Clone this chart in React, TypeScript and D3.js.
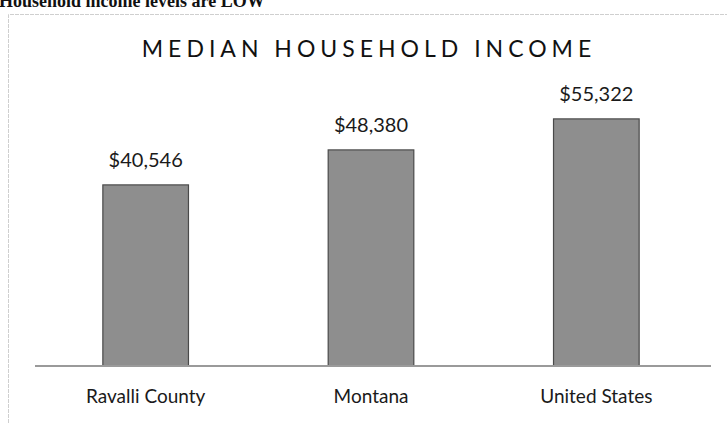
import React, { useEffect, useRef } from 'react';
import * as d3 from 'd3';

const categories = ['Ravalli County', 'Montana', 'United States'];
const incomes = [40546, 48380, 55322];
const valueLabels = ['$40,546', '$48,380', '$55,322'];

const width = 727;
const height = 423;

const App = () => {
    const svgRef = useRef<SVGSVGElement>(null);

    useEffect(() => {
        const svg = d3.select(svgRef.current);
        svg.selectAll('*').remove();

        const baseline = 366;
        const font = 'Lato, "Open Sans", sans-serif';

        const xScale = d3
            .scaleBand()
            .domain(categories)
            .range([33, 709])
            .paddingInner(0.62)
            .paddingOuter(0.31);

        const yScale = d3.scaleLinear().domain([0, 60000]).range([baseline, 98]);

        // page heading, cut off by the scan
        svg.append('text')
            .attr('x', -1)
            .attr('y', 7)
            .style('font-family', '"Liberation Serif", serif')
            .style('font-weight', 'bold')
            .style('font-size', '18px')
            .attr('fill', '#111')
            .text('Household income levels are LOW');

        // chart frame
        svg.append('path')
            .attr('d', `M8.5,${height} V14.5 H${width}`)
            .attr('fill', 'none')
            .attr('stroke', '#cfcfcf')
            .attr('stroke-width', 1)
            .attr('stroke-dasharray', '4,1');

        svg.append('text')
            .attr('x', 369)
            .attr('y', 57)
            .attr('text-anchor', 'middle')
            .style('font-family', font)
            .style('font-size', '23px')
            .style('letter-spacing', '5px')
            .attr('fill', '#111')
            .text('MEDIAN HOUSEHOLD INCOME');

        svg.selectAll('.bar')
            .data(incomes)
            .enter()
            .append('rect')
            .attr('class', 'bar')
            .attr('x', (d, i) => xScale(categories[i]))
            .attr('y', (d) => yScale(d))
            .attr('width', xScale.bandwidth())
            .attr('height', (d) => baseline - yScale(d))
            .attr('fill', '#8e8e8e')
            .attr('stroke', '#4a4a4a')
            .attr('stroke-width', 1.2);

        svg.selectAll('.value')
            .data(incomes)
            .enter()
            .append('text')
            .attr('class', 'value')
            .attr('x', (d, i) => xScale(categories[i]) + xScale.bandwidth() / 2)
            .attr('y', (d) => yScale(d) - 18)
            .attr('text-anchor', 'middle')
            .style('font-family', font)
            .style('font-size', '20px')
            .attr('fill', '#1a1a1a')
            .text((d, i) => valueLabels[i]);

        const xAxis = (g) =>
            g
                .attr('transform', `translate(0,${baseline})`)
                .call(d3.axisBottom(xScale).tickSize(0).tickSizeOuter(0).tickPadding(24))
                .call((g) => g.select('.domain').attr('stroke', '#9a9a9a').attr('stroke-width', 2).attr('d', 'M35,0H711'))
                .selectAll('text')
                .style('font-family', font)
                .style('font-size', '19px')
                .attr('fill', '#1a1a1a');

        svg.append('g').call(xAxis);
    }, []);

    return (
        <svg
            ref={svgRef}
            width={width}
            height={height}
            style={{ position: 'absolute', left: 0, top: 0, background: '#fff' }}
        />
    );
};

export default App;
